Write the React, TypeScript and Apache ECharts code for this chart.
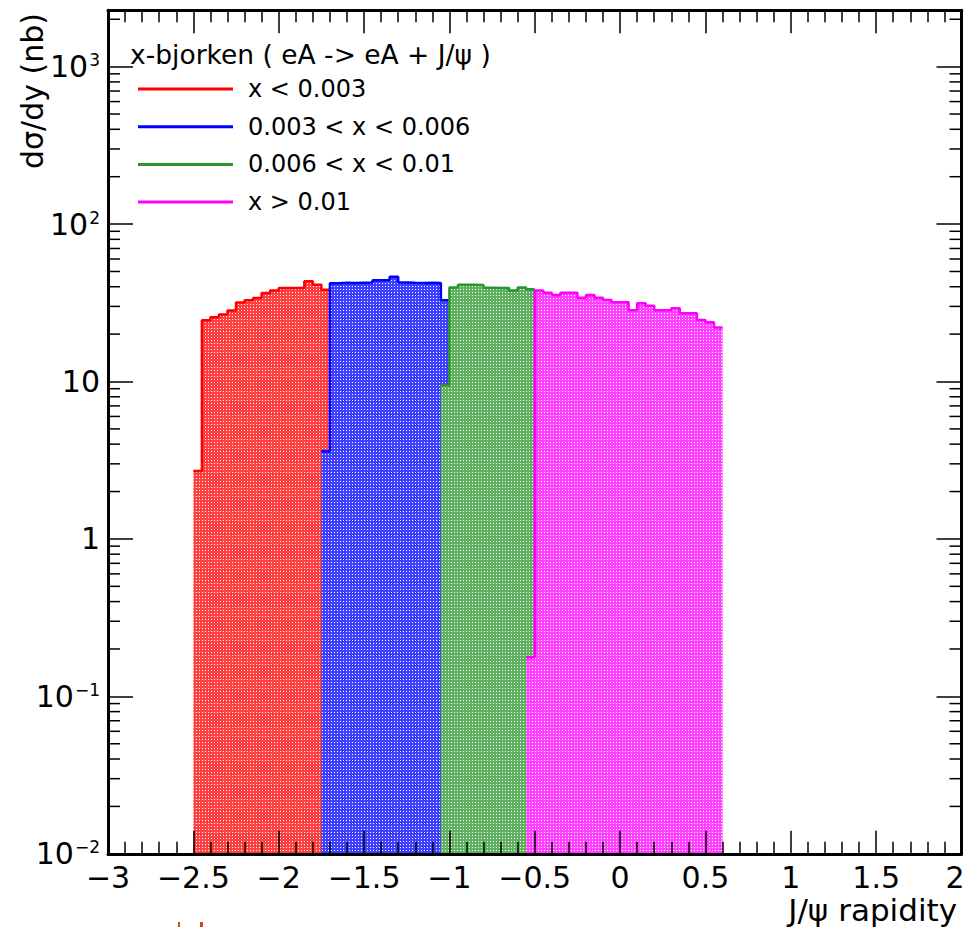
import React, { useEffect, useRef } from 'react';
import * as echarts from 'echarts';

// ---------- data ----------
const BIN_WIDTH = 0.05;

const redStart = -2.5;
const redValues = [2.7, 24.5, 25.6, 26.6, 28.3, 31.8, 32.8, 33.9, 36.5, 37.9, 39.2, 39.2, 39.2, 43.3, 41.2, 38.3];

const blueStart = -1.75;
const blueValues = [3.6, 42.1, 42.4, 42.3, 42.4, 42.5, 44.0, 44.2, 46.3, 42.6, 42.4, 42.3, 42.4, 42.2, 32.8];

const greenStart = -1.05;
const greenValues = [9.5, 39.5, 41.1, 41.2, 41.0, 39.4, 39.2, 39.3, 37.9, 39.6, 38.5];

const pinkStart = -0.55;
const pinkValues = [0.177, 37.8, 36.6, 35.5, 36.6, 36.6, 34.0, 35.5, 34.0, 33.0, 31.9, 31.9, 28.4, 31.4, 30.3, 28.4, 28.4, 29.2, 27.1, 27.1, 24.6, 23.8, 22.0];

const seriesNames = ['x < 0.003', '0.003 < x < 0.006', '0.006 < x < 0.01', 'x > 0.01'];
const seriesColors = ['#ff0000', '#0000ff', '#2a962a', '#ff00ff'];
const legendHeader = 'x-bjorken ( eA -> eA + J/\u03c8 )';
const xTitle = 'J/\u03c8 rapidity';
const yTitle = 'd\u03c3/dy (nb)';

const xMin = -3;
const xMax = 2;
const xInterval = 0.5;
const yMin = 0.01;
const yMax = 2280;
const yMinorMantissas = [2, 3, 4, 5, 6, 7, 8, 9];
const yDecadeValues = [0.01, 0.1, 1, 10, 100, 1000];

const FONT = '"DejaVu Sans", sans-serif';

function stepData(start: number, values: number[]) {
  const pts = values.map((v, i) => [+(start + i * BIN_WIDTH).toFixed(4), v]);
  pts.push([+(start + values.length * BIN_WIDTH).toFixed(4), values[values.length - 1]]);
  return pts;
}

function hexToRgb(hex: string) {
  const n = parseInt(hex.slice(1), 16);
  return [(n >> 16) & 255, (n >> 8) & 255, n & 255];
}

function makePattern(hex: string) {
  const c = document.createElement('canvas');
  c.width = 3;
  c.height = 3;
  const ctx = c.getContext('2d')!;
  const [r, g, b] = hexToRgb(hex);
  const t = 0.25;
  const mix = (x: number) => Math.round(x + (255 - x) * t);
  ctx.fillStyle = `rgb(${mix(r)},${mix(g)},${mix(b)})`;
  ctx.fillRect(0, 0, 3, 3);
  ctx.fillStyle = '#ffffff';
  ctx.fillRect(1, 1, 1, 1);
  return { image: c.toDataURL(), repeat: 'repeat', imageWidth: 3, imageHeight: 3 } as any;
}

function xLabel(v: number) {
  const r = Math.round(v * 10) / 10;
  const s = (r < 0 ? '\u2212' : '') + String(Math.abs(r));
  if (Math.abs(r - xMax) < 1e-9) return '{last|' + s + '}';
  return s;
}

function yLabel(v: number) {
  const e = Math.log10(v);
  const re = Math.round(e);
  if (Math.abs(e - re) > 1e-6) return '';
  if (re === 0) return '1';
  if (re === 1) return '10';
  return '10{sup|' + (re < 0 ? '\u2212' + Math.abs(re) : String(re)) + '}';
}

export default function App() {
  const ref = useRef<HTMLDivElement>(null);

  useEffect(() => {
    if (!ref.current) return;
    const chart = echarts.init(ref.current, undefined, { renderer: 'svg' });

    const starts = [redStart, blueStart, greenStart, pinkStart];
    const vals = [redValues, blueValues, greenValues, pinkValues];

    const minorTicks: number[][] = [];
    yDecadeValues.forEach((d) => {
      yMinorMantissas.forEach((m) => {
        const v = +(m * d).toPrecision(3);
        if (v < yMax) minorTicks.push([xMin, v]);
      });
    });

    const histSeries = seriesNames.map((name, k) => ({
      name,
      type: 'line',
      step: 'end',
      data: stepData(starts[k], vals[k]),
      symbol: 'none',
      showSymbol: false,
      color: seriesColors[k],
      itemStyle: { color: seriesColors[k] },
      lineStyle: { color: seriesColors[k], width: 2.5 },
      areaStyle: { color: makePattern(seriesColors[k]), origin: 'start', opacity: 1 },
      z: 2 + k,
      silent: true,
    }));

    const tickLine = { color: '#000', width: 1.5 };

    const baseX = {
      type: 'value',
      min: xMin,
      max: xMax,
      interval: xInterval,
      z: 10,
      axisLine: { show: true, onZero: false, lineStyle: { color: '#000', width: 3 } },
      axisTick: { show: true, inside: true, length: 23, lineStyle: tickLine },
      minorTick: { show: true, splitNumber: 5, length: 12, lineStyle: tickLine },
      splitLine: { show: false },
      minorSplitLine: { show: false },
    };

    const baseY = {
      type: 'log',
      logBase: 10,
      min: yMin,
      max: yMax,
      z: 10,
      axisLine: { show: true, onZero: false, lineStyle: { color: '#000', width: 3 } },
      axisTick: { show: true, inside: true, length: 25, lineStyle: tickLine },
      splitLine: { show: false },
    };

    const option: any = {
      animation: false,
      backgroundColor: '#ffffff',
      grid: { left: 108, right: 4.5, top: 10.3, bottom: 73.2, containLabel: false, outerBoundsMode: 'none' },
      xAxis: [
        {
          ...baseX,
          position: 'bottom',
          axisLabel: {
            show: true,
            formatter: xLabel,
            fontSize: 30,
            fontFamily: FONT,
            color: '#000',
            margin: 9,
            lineHeight: 30,
            rich: {
              last: { fontSize: 30, fontFamily: FONT, color: '#000', lineHeight: 30, padding: [0, 13, 0, 0] },
            },
          },
        },
        { ...baseX, position: 'top', axisLabel: { show: false } },
      ],
      yAxis: [
        {
          ...baseY,
          position: 'left',
          axisLabel: {
            show: true,
            formatter: yLabel,
            showMaxLabel: false,
            margin: 8,
            color: '#000',
            fontSize: 30,
            fontFamily: FONT,
            rich: {
              sup: { fontSize: 17, fontFamily: FONT, color: '#000', verticalAlign: 'top', lineHeight: 17, padding: [0, 0, 12, 1] },
            },
          },
        },
        { ...baseY, position: 'right', axisLabel: { show: false } },
      ],
      legend: {
        show: true,
        data: seriesNames,
        orient: 'vertical',
        left: 138,
        top: 77,
        padding: 0,
        icon: 'rect',
        itemWidth: 95,
        itemHeight: 3,
        itemGap: 13.7,
        selectedMode: false,
        textStyle: { fontSize: 24, fontFamily: FONT, color: '#000', lineHeight: 24, padding: [0, 0, 0, 10] },
      },
      graphic: [
        {
          type: 'text',
          x: 130,
          y: 54,
          z: 20,
          style: { text: legendHeader, fontSize: 26.5, fontFamily: FONT, fill: '#000', align: 'left', verticalAlign: 'middle' },
        },
        {
          type: 'text',
          x: 32,
          y: 13,
          rotation: Math.PI / 2,
          z: 20,
          style: { text: yTitle, fontSize: 30, fontFamily: FONT, fill: '#000', align: 'right', verticalAlign: 'middle' },
        },
        {
          type: 'text',
          x: 957,
          y: 910,
          z: 20,
          style: { text: xTitle, fontSize: 31, fontFamily: FONT, fill: '#000', align: 'right', verticalAlign: 'middle' },
        },
        { type: 'rect', z: 20, shape: { x: 178, y: 922, width: 2, height: 6 }, style: { fill: '#d9480f' } },
        { type: 'rect', z: 20, shape: { x: 200, y: 922, width: 3, height: 6 }, style: { fill: '#d9480f' } },
      ],
      series: [
        ...histSeries,
        {
          name: 'yMinorTicks',
          type: 'custom',
          coordinateSystem: 'cartesian2d',
          silent: true,
          clip: false,
          z: 12,
          data: minorTicks,
          renderItem: (_params: any, api: any) => {
            const v = api.value(1);
            const pl = api.coord([xMin, v]);
            const pr = api.coord([xMax, v]);
            return {
              type: 'group',
              children: [
                { type: 'line', shape: { x1: pl[0], y1: pl[1], x2: pl[0] + 12, y2: pl[1] }, style: { stroke: '#000', lineWidth: 1.5 } },
                { type: 'line', shape: { x1: pr[0], y1: pr[1], x2: pr[0] - 12, y2: pr[1] }, style: { stroke: '#000', lineWidth: 1.5 } },
              ],
            };
          },
        },
      ],
    };

    chart.setOption(option);
    return () => chart.dispose();
  }, []);

  return <div ref={ref} style={{ position: 'absolute', left: 0, top: 0, width: 966, height: 927 }} />;
}
